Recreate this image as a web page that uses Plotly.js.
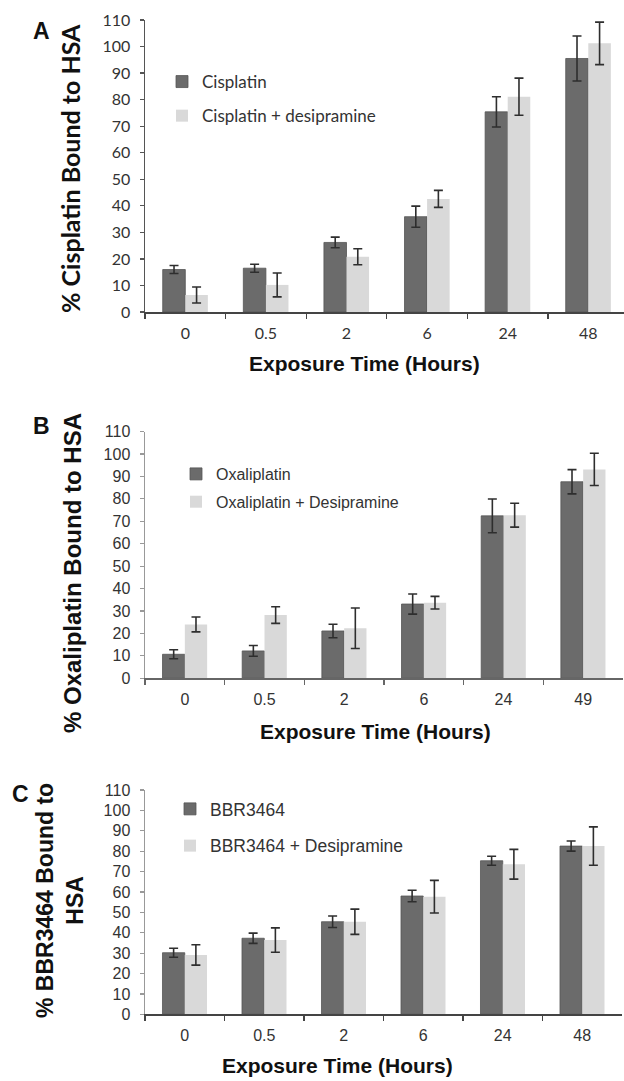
<!DOCTYPE html>
<html>
<head>
<meta charset="utf-8">
<script src="https://cdn.plot.ly/plotly-3.0.1.min.js"></script>
<style>html,body{margin:0;padding:0;background:#fff;}#chart{width:624px;height:1081px;}</style>
</head>
<body>
<div id="chart"></div>
<script>
// ---------- data ----------
const timesA = ['0', '0.5', '2', '6', '24', '48'];
const timesB = ['0', '0.5', '2', '6', '24', '49'];
const timesC = ['0', '0.5', '2', '6', '24', '48'];

const cisplatin      = [16.0, 16.5, 26.2, 35.9, 75.4, 95.5];
const cisplatinErr   = [1.5, 1.5, 2.0, 4.0, 5.7, 8.5];
const cisplatinDes   = [6.4, 10.2, 20.8, 42.6, 81.1, 101.2];
const cisplatinDesErr= [3.0, 4.5, 3.0, 3.2, 7.0, 8.0];

const oxaliplatin      = [10.7, 12.2, 21.1, 33.1, 72.4, 87.6];
const oxaliplatinErr   = [2.0, 2.4, 3.0, 4.5, 7.5, 5.4];
const oxaliplatinDes   = [24.0, 28.2, 22.3, 33.7, 72.7, 93.1];
const oxaliplatinDesErr= [3.3, 3.7, 9.0, 2.8, 5.3, 7.2];

const bbr      = [30.2, 37.3, 45.4, 58.0, 75.3, 82.5];
const bbrErr   = [2.2, 2.5, 2.8, 2.8, 2.2, 2.5];
const bbrDes   = [29.1, 36.4, 45.4, 57.7, 73.6, 82.5];
const bbrDesErr= [5.0, 6.0, 6.2, 8.0, 7.3, 9.4];

const namesA = ['Cisplatin', 'Cisplatin + desipramine'];
const namesB = ['Oxaliplatin', 'Oxaliplatin + Desipramine'];
const namesC = ['BBR3464', 'BBR3464 + Desipramine'];

const yTicks = [0,10,20,30,40,50,60,70,80,90,100,110];

// ---------- styling ----------
const W = 624, H = 1081;
const DARK = '#6b6b6b', LIGHT = '#d9d9d9';
const px = v => v / W;
const py = v => 1 - v / H;

function barTrace(x, y, err, name, color, xa, ya, leg, group) {
  return {
    type: 'bar', x: x, y: y, name: name,
    xaxis: xa, yaxis: ya, legend: leg, legendgroup: group,
    marker: {color: color, line: {color: color === DARK ? '#555' : LIGHT, width: color === DARK ? 0.8 : 0}},
    error_y: {type: 'data', array: err, visible: true, color: '#2e2e2e', thickness: 1.6, width: 4.5},
    hoverinfo: 'skip'
  };
}

const data = [
  barTrace(timesA, cisplatin, cisplatinErr, namesA[0], DARK, 'x', 'y', 'legend', 'a1'),
  barTrace(timesA, cisplatinDes, cisplatinDesErr, namesA[1], LIGHT, 'x', 'y', 'legend', 'a2'),
  barTrace(timesB, oxaliplatin, oxaliplatinErr, namesB[0], DARK, 'x2', 'y2', 'legend2', 'b1'),
  barTrace(timesB, oxaliplatinDes, oxaliplatinDesErr, namesB[1], LIGHT, 'x2', 'y2', 'legend2', 'b2'),
  barTrace(timesC, bbr, bbrErr, namesC[0], DARK, 'x3', 'y3', 'legend3', 'c1'),
  barTrace(timesC, bbrDes, bbrDesErr, namesC[1], LIGHT, 'x3', 'y3', 'legend3', 'c2')
];

const fontA = 'Lato, "Open Sans", sans-serif';
const fontBC = '"Liberation Sans", Arial, sans-serif';

function xAxis(domain, range, lineColor, font, size, anchor) {
  return {
    type: 'category', domain: domain, range: range, anchor: anchor,
    showline: true, linecolor: lineColor, linewidth: 1.5,
    ticks: 'outside', tickson: 'boundaries', ticklen: 5, tickcolor: lineColor, tickwidth: 1.2,
    showgrid: false, zeroline: false,
    tickfont: {family: font, size: size, color: '#333'}, ticklabelstandoff: 6,
    fixedrange: true
  };
}
function yAxis(domain, lineColor, font, size, anchor) {
  return {
    domain: domain, range: [0, 110], anchor: anchor,
    tickvals: yTicks, ticktext: yTicks.map(String),
    showline: true, linecolor: lineColor, linewidth: 1.5,
    ticks: 'outside', ticklen: 4, tickcolor: lineColor, tickwidth: 1.2,
    showgrid: false, zeroline: false,
    tickfont: {family: font, size: size, color: '#333'}, ticklabelstandoff: 6,
    fixedrange: true
  };
}

const ann = (text, x, y, size, family, opts) => Object.assign({
  text: text, x: px(x), y: py(y), xref: 'paper', yref: 'paper',
  showarrow: false, xanchor: 'center', yanchor: 'middle',
  font: {family: family, size: size, color: '#111'}
}, opts || {});

const layout = {
  width: W, height: H,
  margin: {l: 0, r: 0, t: 0, b: 0},
  paper_bgcolor: '#fff', plot_bgcolor: '#fff',
  barmode: 'group', bargap: 0.44, bargroupgap: 0,
  showlegend: true,
  xaxis: xAxis([px(145), 1], [-0.5, 5.443], '#444', fontA, 16, 'y'),
  yaxis: yAxis([py(312), py(20)], '#555', fontA, 16, 'x'),
  xaxis2: xAxis([px(145), px(623)], [-0.5, 5.5], '#666', fontBC, 16, 'y2'),
  yaxis2: yAxis([py(678.3), py(431.5)], '#999', fontBC, 16, 'x2'),
  xaxis3: xAxis([px(145), px(622)], [-0.5, 5.5], '#444', fontBC, 16, 'y3'),
  yaxis3: yAxis([py(1014.3), py(790)], '#999', fontBC, 16, 'x3'),
  legend:  {x: px(162), y: py(64), xref: 'paper', yref: 'paper', xanchor: 'left', yanchor: 'top',
            bgcolor: 'rgba(0,0,0,0)', traceorder: 'grouped', tracegroupgap: 9,
            font: {family: fontA, size: 17, color: '#333'}},
  legend2: {x: px(176), y: py(457), xref: 'paper', yref: 'paper', xanchor: 'left', yanchor: 'top',
            bgcolor: 'rgba(0,0,0,0)', traceorder: 'grouped', tracegroupgap: 4,
            font: {family: fontBC, size: 16, color: '#333'}},
  legend3: {x: px(170), y: py(791), xref: 'paper', yref: 'paper', xanchor: 'left', yanchor: 'top',
            bgcolor: 'rgba(0,0,0,0)', traceorder: 'grouped', tracegroupgap: 11,
            font: {family: fontBC, size: 17.5, color: '#333'}},
  annotations: [
    ann('<b>A</b>', 41, 31, 23, fontBC),
    ann('<b>B</b>', 41, 426, 23, fontBC),
    ann('<b>C</b>', 20, 794, 23, fontBC),
    ann('<b>% Cisplatin Bound to HSA</b>', 70, 169, 25, fontA, {textangle: -90}),
    ann('<b>% Oxaliplatin Bound to HSA</b>', 72, 573, 24, fontBC, {textangle: -90}),
    ann('<b>% BBR3464 Bound to<br>HSA</b>', 60, 901, 23, fontBC, {textangle: -90}),
    ann('<b>Exposure Time (Hours)</b>', 364, 364, 21, fontBC),
    ann('<b>Exposure Time (Hours)</b>', 375, 731, 21, fontBC),
    ann('<b>Exposure Time (Hours)</b>', 337, 1065, 21, fontBC)
  ]
};

Plotly.newPlot('chart', data, layout, {staticPlot: true, displayModeBar: false});
</script>
</body>
</html>
